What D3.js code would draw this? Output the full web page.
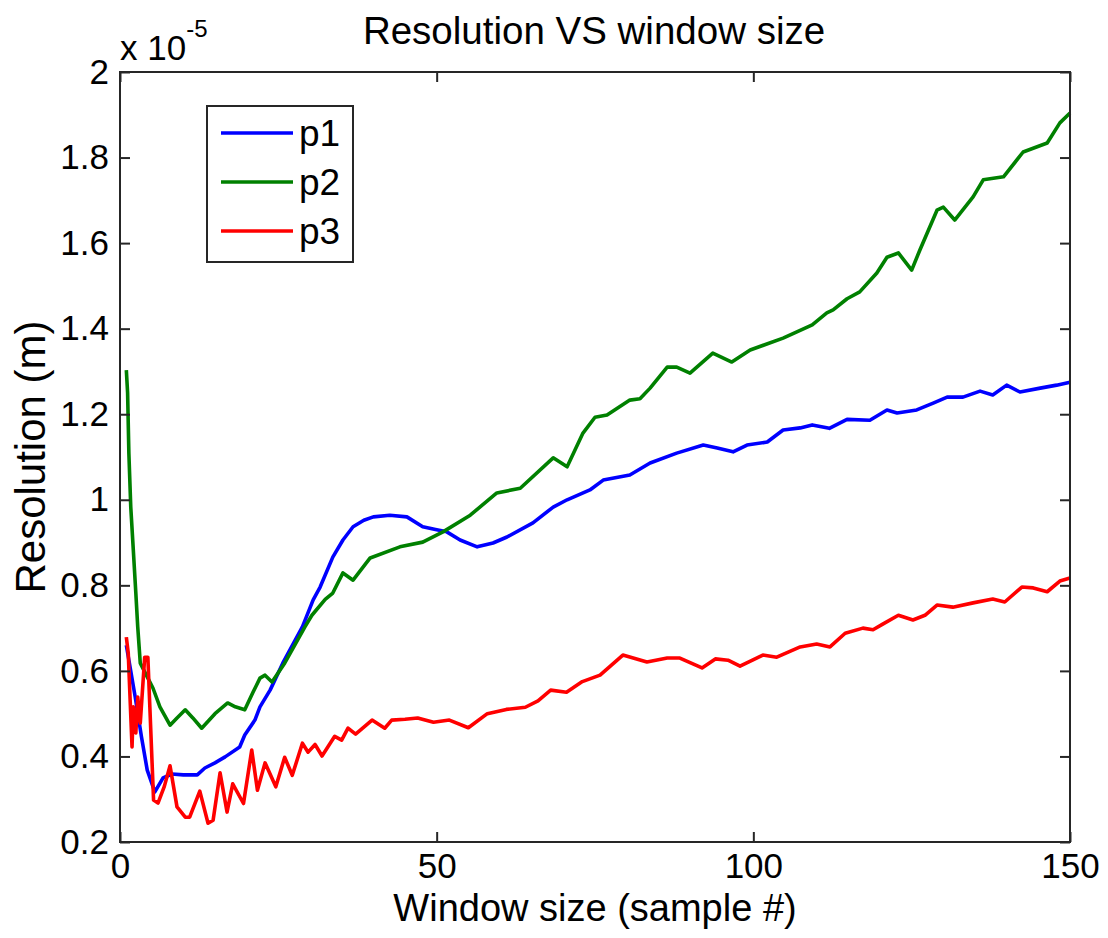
<!DOCTYPE html>
<html>
<head>
<meta charset="utf-8">
<script src="https://cdn.jsdelivr.net/npm/d3@7"></script>
<style>
  html, body { margin: 0; padding: 0; background: #fff; }
  svg { display: block; }
  text { font-family: "Liberation Sans", Arial, Helvetica, sans-serif; fill: #000; }
</style>
</head>
<body>
<svg id="chart" width="1108" height="938"></svg>
<script>
// ---- data (resolution values in units of 1e-5 m) ----
const xTicks = [0, 50, 100, 150];
const yTicks = [0.2, 0.4, 0.6, 0.8, 1.0, 1.2, 1.4, 1.6, 1.8, 2.0];
const yTickLabels = ["0.2", "0.4", "0.6", "0.8", "1", "1.2", "1.4", "1.6", "1.8", "2"];
const seriesNames = ["p1", "p2", "p3"];
const seriesColors = ["#0000ff", "#008000", "#ff0000"];

const windowP1 = [1, 2.4, 3.4, 4.3, 5.5, 6.8, 8.2, 10, 12.2, 13.4, 15, 16.6, 18.9, 19.7, 21.3, 22.1, 23.7, 25.7, 28.8, 30.5, 31.6, 33.6, 35.2, 36.8, 38.5, 40, 42.6, 45.3, 47.8, 50, 51.6, 53.7, 56.4, 58.9, 61.1, 65.2, 68.4, 70.6, 74.2, 76.3, 80.5, 83.7, 87.9, 92.1, 94.3, 96.8, 99, 102.2, 104.7, 107.4, 109.3, 112, 114.8, 118.4, 121.1, 122.7, 125.8, 128.4, 130.6, 133.1, 135.8, 137.8, 140, 142.1, 145.3, 147.9, 150];
const resP1 = [0.66, 0.539, 0.445, 0.368, 0.317, 0.35, 0.359, 0.357, 0.357, 0.373, 0.385, 0.399, 0.422, 0.45, 0.485, 0.516, 0.555, 0.618, 0.703, 0.766, 0.796, 0.866, 0.906, 0.937, 0.952, 0.96, 0.964, 0.96, 0.937, 0.93, 0.925, 0.906, 0.89, 0.899, 0.913, 0.946, 0.983, 1.0, 1.023, 1.046, 1.058, 1.086, 1.109, 1.128, 1.121, 1.112, 1.128, 1.135, 1.163, 1.168, 1.175, 1.167, 1.188, 1.186, 1.21, 1.203, 1.21, 1.226, 1.24, 1.24, 1.254, 1.245, 1.268, 1.252, 1.261, 1.268, 1.275];

const windowP2 = [1, 1.2, 1.4, 1.7, 2.1, 2.5, 2.8, 3.2, 4.4, 5.2, 6.3, 7.9, 9, 10.3, 11.5, 12.9, 15, 17, 18.2, 19.7, 21, 22.1, 22.9, 24, 26, 29.2, 30.3, 32.4, 33.6, 35.2, 36.8, 39.5, 44.2, 47.8, 51, 55.3, 59.5, 63.2, 68.4, 70.6, 73.1, 75, 76.9, 80.5, 82.1, 83.7, 86.4, 87.9, 90, 93.6, 96.6, 99.5, 104.7, 109.3, 111.6, 112.6, 114.8, 116.8, 119.5, 121.1, 122.9, 125, 126.3, 129, 130, 131.8, 134.7, 136.3, 139.5, 142.6, 146.4, 148.4, 150];
const resP2 = [1.303, 1.25, 1.109, 0.983, 0.883, 0.782, 0.703, 0.618, 0.583, 0.56, 0.516, 0.473, 0.49, 0.509, 0.49, 0.466, 0.5, 0.525, 0.516, 0.509, 0.55, 0.583, 0.59, 0.574, 0.618, 0.703, 0.73, 0.767, 0.782, 0.829, 0.812, 0.864, 0.89, 0.901, 0.925, 0.964, 1.016, 1.027, 1.098, 1.077, 1.156, 1.193, 1.198, 1.233, 1.236, 1.261, 1.31, 1.31, 1.296, 1.343, 1.322, 1.35, 1.378, 1.409, 1.437, 1.444, 1.47, 1.486, 1.53, 1.567, 1.577, 1.537, 1.584, 1.677, 1.684, 1.654, 1.708, 1.748, 1.755, 1.813, 1.834, 1.881, 1.904];

const windowP3 = [1, 1.3, 1.9, 2.1, 2.5, 2.8, 3.2, 3.9, 4.4, 5.3, 6, 7, 7.9, 9, 10.3, 11, 12.6, 13.9, 14.7, 15.8, 16.9, 17.8, 19.5, 20.8, 21.7, 22.9, 24.6, 26, 27.2, 28.8, 29.7, 30.8, 31.9, 33.9, 35, 36, 37.2, 39.8, 41.8, 42.9, 45, 47, 49.5, 52, 55, 58, 61, 64, 66, 68, 70.5, 73, 75.8, 79.4, 83.2, 86.4, 88.4, 91.9, 94, 96, 97.9, 101.5, 103.7, 107.4, 110, 112.1, 114.5, 117.3, 118.9, 120.5, 122.9, 125.2, 127.1, 129, 131.5, 134.7, 137.8, 139.7, 142.4, 144.2, 146.4, 148.4, 150];
const resP3 = [0.679, 0.642, 0.422, 0.516, 0.455, 0.539, 0.478, 0.632, 0.632, 0.298, 0.291, 0.33, 0.378, 0.282, 0.258, 0.258, 0.319, 0.244, 0.251, 0.362, 0.27, 0.336, 0.29, 0.415, 0.321, 0.385, 0.329, 0.398, 0.356, 0.431, 0.41, 0.428, 0.401, 0.447, 0.438, 0.466, 0.452, 0.485, 0.466, 0.485, 0.487, 0.49, 0.48, 0.485, 0.467, 0.5, 0.51, 0.515, 0.53, 0.555, 0.55, 0.575, 0.59, 0.637, 0.621, 0.63, 0.63, 0.607, 0.628, 0.625, 0.611, 0.637, 0.632, 0.656, 0.663, 0.656, 0.688, 0.7, 0.696, 0.71, 0.73, 0.719, 0.73, 0.754, 0.749, 0.759, 0.768, 0.761, 0.796, 0.794, 0.785, 0.81, 0.817];

// ---- layout ----
const svg = d3.select("#chart");
const L = 120, R = 1070, T = 72, B = 842;
const x = d3.scaleLinear().domain([0, 150]).range([L, R]);
const y = d3.scaleLinear().domain([0.2, 2]).range([B, T]);
const fs = 35;

const series = [
  { xs: windowP1, ys: resP1 },
  { xs: windowP2, ys: resP2 },
  { xs: windowP3, ys: resP3 }
];

// lines
const line = d3.line().x(d => x(d[0])).y(d => y(d[1]));
series.forEach((s, i) => {
  const pts = s.xs.map((v, k) => [v, s.ys[k]]);
  svg.append("path").datum(pts)
    .attr("fill", "none")
    .attr("stroke", seriesColors[i])
    .attr("stroke-width", 3.6)
    .attr("stroke-linejoin", "round")
    .attr("d", line);
});

// axes
const axisColor = "#262626";
function styleAxis(g) {
  g.select(".domain").remove();
  g.selectAll(".tick line").attr("stroke", axisColor).attr("stroke-width", 2);
  g.selectAll(".tick text").style("font-size", fs + "px").attr("fill", "#000");
}
svg.append("g").attr("transform", `translate(0,${B})`)
  .call(d3.axisBottom(x).tickValues(xTicks).tickSize(-10).tickPadding(11).tickFormat(d3.format("d")))
  .call(styleAxis);
svg.append("g").attr("transform", `translate(0,${T})`)
  .call(d3.axisTop(x).tickValues(xTicks).tickSize(-10).tickFormat(""))
  .call(styleAxis);
svg.append("g").attr("transform", `translate(${L},0)`)
  .call(d3.axisLeft(y).tickValues(yTicks).tickSize(-10).tickPadding(11).tickFormat((d, i) => yTickLabels[i]))
  .call(styleAxis);
svg.append("g").attr("transform", `translate(${R},0)`)
  .call(d3.axisRight(y).tickValues(yTicks).tickSize(-10).tickFormat(""))
  .call(styleAxis);
svg.selectAll("g text").attr("font-family", null);

// box
svg.append("rect").attr("x", L).attr("y", T).attr("width", R - L).attr("height", B - T)
  .attr("fill", "none").attr("stroke", axisColor).attr("stroke-width", 2);

// exponent label
const ex = svg.append("text").attr("x", L).attr("y", 60).style("font-size", fs + "px");
ex.append("tspan").text("x 10");
ex.append("tspan").attr("dy", -23).style("font-size", "24px").text("-5");

// title
svg.append("text").attr("x", 594).attr("y", 44).attr("text-anchor", "middle")
  .style("font-size", "38.5px").text("Resolution VS window size");

// axis labels
svg.append("text").attr("x", 595).attr("y", 921).attr("text-anchor", "middle")
  .style("font-size", "38px").text("Window size (sample #)");
svg.append("text").attr("transform", "translate(45,457) rotate(-90)").attr("text-anchor", "middle")
  .style("font-size", "42px").text("Resolution (m)");

// legend
const lg = svg.append("g");
lg.append("rect").attr("x", 207).attr("y", 106).attr("width", 146).attr("height", 156)
  .attr("fill", "#fff").attr("stroke", axisColor).attr("stroke-width", 2);
seriesNames.forEach((n, i) => {
  const yy = 133 + i * 49;
  lg.append("line").attr("x1", 221).attr("x2", 293).attr("y1", yy).attr("y2", yy)
    .attr("stroke", seriesColors[i]).attr("stroke-width", 3.6);
  lg.append("text").attr("x", 299).attr("y", yy + 13).style("font-size", "37px").text(n);
});
</script>
</body>
</html>
